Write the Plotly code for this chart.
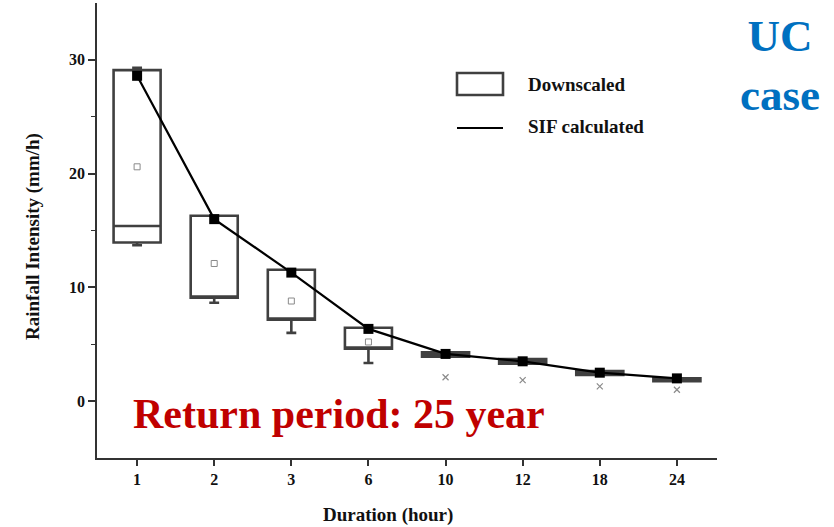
import plotly.graph_objects as go

# Rainfall intensity by storm duration, return period 25 years
durations = ["1", "2", "3", "6", "10", "12", "18", "24"]

# Downscaled ensemble statistics (mm/h)
ds_min = [13.7, 8.65, 6.0, 3.35, 3.9, 3.3, 2.3, 1.75]
ds_q1 = [13.95, 9.1, 7.15, 4.6, 3.9, 3.3, 2.3, 1.75]
ds_median = [15.4, 9.2, 7.25, 4.7, 4.1, 3.5, 2.45, 1.9]
ds_q3 = [29.1, 16.3, 11.55, 6.45, 4.3, 3.7, 2.65, 2.0]
ds_max = [29.3, 16.3, 11.55, 6.45, 4.3, 3.7, 2.65, 2.0]
ds_mean = [20.6, 12.1, 8.8, 5.2, None, None, None, None]
ds_outlier = [None, None, None, None, 2.1, 1.85, 1.3, 1.0]

# SIF-based intensities (mm/h)
sif = [28.6, 16.0, 11.3, 6.35, 4.15, 3.5, 2.5, 2.0]

pos = list(range(len(durations)))
SERIF = "Liberation Serif, Times New Roman, serif"
BOX_COLOR = "#404040"
TEXT_COLOR = "#111111"

fig = go.Figure()

fig.add_trace(go.Box(
    x=pos, q1=ds_q1, median=ds_median, q3=ds_q3,
    lowerfence=ds_min, upperfence=ds_max,
    width=0.61, whiskerwidth=0.21,
    line=dict(color=BOX_COLOR, width=2.6),
    fillcolor="rgba(255,255,255,0)",
    boxpoints=False, showlegend=False, name="Downscaled",
))

fig.add_trace(go.Scatter(
    x=pos, y=ds_mean, mode="markers", showlegend=False,
    marker=dict(symbol="square-open", size=6, color="#8a8a8a",
                line=dict(width=1, color="#8a8a8a")),
))

fig.add_trace(go.Scatter(
    x=pos, y=ds_outlier, mode="markers", showlegend=False,
    marker=dict(symbol="x-thin-open", size=6, color="#8a8a8a",
                line=dict(width=1.2, color="#8a8a8a")),
))

fig.add_trace(go.Scatter(
    x=pos, y=sif, mode="lines+markers", showlegend=False,
    line=dict(color="black", width=2.2),
    marker=dict(symbol="square", size=10, color="black"),
    name="SIF calculated",
))

axis_font = dict(family=SERIF, size=16, color=TEXT_COLOR, weight="bold")

fig.update_layout(
    width=834, height=527,
    margin=dict(l=97, r=117, t=3, b=69),
    paper_bgcolor="white", plot_bgcolor="white",
    xaxis=dict(
        range=[-0.52, 7.52], tickmode="array", tickvals=pos, ticktext=durations,
        showgrid=False, zeroline=False, showline=True, linecolor="#333333",
        linewidth=1.6, ticks="outside", ticklen=6, tickwidth=1.6,
        tickcolor="#333333", tickfont=axis_font,
    ),
    yaxis=dict(
        range=[-5, 35], tickmode="array", tickvals=[0, 10, 20, 30],
        showgrid=False, zeroline=False, showline=True, linecolor="#333333",
        linewidth=1.6, ticks="outside", ticklen=7, tickwidth=1.6,
        tickcolor="#333333", tickfont=axis_font,
        minor=dict(tickvals=[5, 15, 25], ticks="outside", ticklen=4,
                   tickwidth=1.4, tickcolor="#333333"),
    ),
    showlegend=False,
)


def px(xp):
    return (xp - 97) / 620


def py(yp):
    return (458 - yp) / 455


# axis titles
fig.add_annotation(text="<b>Duration (hour)</b>", xref="paper", yref="paper",
                   x=px(388), y=py(515), showarrow=False,
                   xanchor="center", yanchor="middle",
                   font=dict(family=SERIF, size=19, color=TEXT_COLOR))
fig.add_annotation(text="<b>Rainfall Intensity (mm/h)</b>", xref="paper",
                   yref="paper", x=px(33), y=py(237),
                   textangle=-90, showarrow=False, xanchor="center",
                   yanchor="middle",
                   font=dict(family=SERIF, size=19, color=TEXT_COLOR))

# legend
fig.add_shape(type="rect", xref="paper", yref="paper",
              x0=px(457), x1=px(503), y0=py(95), y1=py(73),
              line=dict(color=BOX_COLOR, width=2.6), fillcolor="white")
fig.add_shape(type="line", xref="paper", yref="paper",
              x0=px(457), x1=px(503), y0=py(128), y1=py(128),
              line=dict(color="black", width=2.2))
fig.add_annotation(text="<b>Downscaled</b>", xref="paper", yref="paper",
                   x=px(526), y=py(84), xanchor="left", yanchor="middle",
                   showarrow=False,
                   font=dict(family=SERIF, size=19, color=TEXT_COLOR))
fig.add_annotation(text="<b>SIF calculated</b>", xref="paper", yref="paper",
                   x=px(526), y=py(126), xanchor="left", yanchor="middle",
                   showarrow=False,
                   font=dict(family=SERIF, size=19, color=TEXT_COLOR))

# headline labels
fig.add_annotation(text="<b>Return period: 25 year</b>", xref="paper",
                   yref="paper", x=px(131), y=py(414), xanchor="left",
                   yanchor="middle", showarrow=False,
                   font=dict(family=SERIF, size=42, color="#C00000"))
fig.add_annotation(text="<b>UC<br>case</b>", xref="paper", yref="paper",
                   x=px(780), y=py(66), xanchor="center", yanchor="middle",
                   showarrow=False, align="center",
                   font=dict(family=SERIF, size=45, color="#0070C0"))

fig.write_html("out.html")
